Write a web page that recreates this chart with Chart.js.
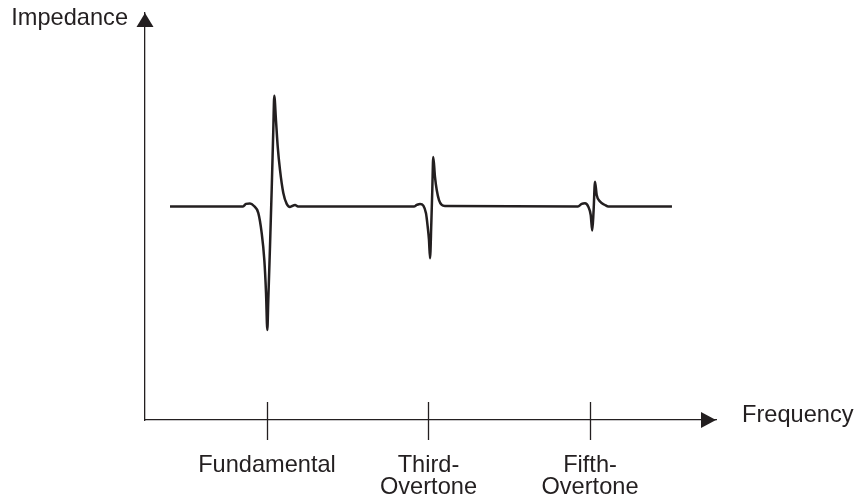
<!DOCTYPE html>
<html><head><meta charset="utf-8">
<script src="https://cdn.jsdelivr.net/npm/chart.js@4.4.0/dist/chart.umd.min.js"></script>
<style>html,body{margin:0;padding:0;background:#fff;} canvas{display:block;}</style>
</head><body>
<canvas id="c" width="857" height="499"></canvas>
<script>
// Frequency in harmonic units (fundamental = 1), impedance in relative units (baseline = 100)
const frequency = [-0.201, 0.703, 0.740, 0.789, 0.839, 0.892, 0.934, 0.967, 0.988, 1.004, 1.016, 1.037, 1.058, 1.078, 1.090, 1.111, 1.133, 1.161, 1.202, 1.244, 1.285, 1.347, 1.384,
  2.820, 2.854, 2.895, 2.936, 2.969, 2.990, 3.006, 3.019, 3.035, 3.047, 3.059, 3.080, 3.102, 3.130, 3.164, 3.204,
  4.851, 4.897, 4.938, 4.979, 5.009, 5.028, 5.045, 5.062, 5.083, 5.124, 5.186, 5.227, 6.015];
const impedance = [100, 100, 101.2, 101.4, 100.2, 97.0, 87.6, 74.9, 59.5, 42.2, 56.2, 81.0, 107.7, 135.8, 151.8, 140.5, 127.9, 117.1, 106.3, 101.2, 99.8, 100.7, 100,
  100, 100.7, 101.2, 100.4, 96.8, 90.5, 84.3, 75.7, 92.3, 107.7, 123.2, 114.0, 107.7, 103.0, 100.7, 100.2,
  100, 101.2, 101.5, 99.9, 96.0, 88.7, 98.4, 111.6, 105.4, 102.3, 100.7, 100, 100];
const tickValues = [1, 3, 5];
const tickLabels = [["Fundamental"], ["Third-", "Overtone"], ["Fifth-", "Overtone"]];
const yAxisTitle = "Impedance";
const xAxisTitle = "Frequency";

const ink = '#231f20';
const FONT = "'Liberation Sans', Arial, Helvetica, sans-serif";

const axisDecor = {
  id: 'axisDecor',
  afterDraw(chart) {
    const {ctx, chartArea: a, scales: {x}} = chart;
    ctx.save();
    ctx.fillStyle = ink; ctx.strokeStyle = ink;
    ctx.beginPath(); ctx.moveTo(a.left, a.top); ctx.lineTo(a.left - 8.5, a.top + 14); ctx.lineTo(a.left + 8.5, a.top + 14); ctx.closePath(); ctx.fill();
    ctx.beginPath(); ctx.moveTo(a.right, a.bottom); ctx.lineTo(a.right - 15, a.bottom - 8); ctx.lineTo(a.right - 15, a.bottom + 8); ctx.closePath(); ctx.fill();
    ctx.lineWidth = 1.3;
    tickValues.forEach(v => {
      const px = Math.round(x.getPixelForValue(v)) + 0.5;
      ctx.beginPath(); ctx.moveTo(px, a.bottom - 18); ctx.lineTo(px, a.bottom + 20); ctx.stroke();
    });
    ctx.font = `23.6px ${FONT}`;
    ctx.textBaseline = 'alphabetic';
    ctx.textAlign = 'right'; ctx.fillText(yAxisTitle, a.left - 17, a.top + 12);
    ctx.textAlign = 'left'; ctx.fillText(xAxisTitle, a.right + 26, a.bottom + 1.5);
    ctx.restore();
  }
};

new Chart(document.getElementById('c'), {
  type: 'line',
  data: {
    datasets: [{
      data: frequency.map((f, i) => ({x: f, y: impedance[i]})),
      borderColor: ink,
      borderWidth: 2.5,
      pointRadius: 0,
      cubicInterpolationMode: 'monotone',
      fill: false
    }]
  },
  options: {
    responsive: false,
    animation: false,
    devicePixelRatio: 1,
    layout: {padding: {top: 13, right: 141, left: 0, bottom: 0}},
    plugins: {legend: {display: false}, tooltip: {enabled: false}},
    scales: {
      x: {
        type: 'linear', min: -0.5108, max: 6.5604,
        border: {display: true, color: ink, width: 1.3},
        grid: {drawOnChartArea: false, drawTicks: false},
        afterBuildTicks: s => { s.ticks = tickValues.map(v => ({value: v})); },
        afterFit: s => { s.height = 79; },
        ticks: {
          autoSkip: false, maxRotation: 0, padding: 35, color: ink,
          font: {family: FONT, size: 23.6, lineHeight: 0.93},
          callback: (v) => { const i = tickValues.indexOf(v); return i >= 0 ? tickLabels[i] : ''; }
        }
      },
      y: {
        min: 0, max: 190.6,
        border: {display: true, color: ink, width: 1.3},
        grid: {drawOnChartArea: false, drawTicks: false},
        ticks: {display: false},
        afterFit: s => { s.width = 145; }
      }
    }
  },
  plugins: [axisDecor]
});
</script>
</body></html>
